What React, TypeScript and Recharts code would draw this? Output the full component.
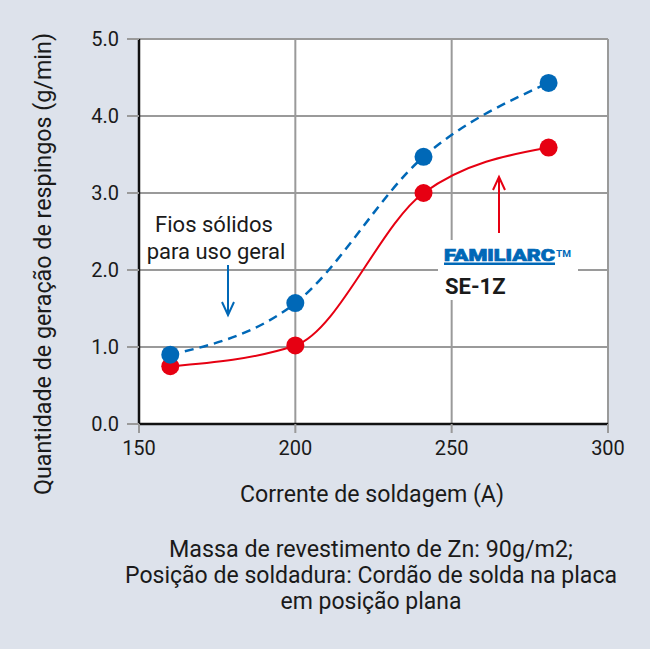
import { CartesianGrid, Line, LineChart, XAxis, YAxis } from "recharts";

// welding current (A) and spatter generation (g/min)
const CURRENT = [160, 200, 241, 281];
const SOLID_WIRE = [0.9, 1.57, 3.47, 4.43];
const SE_1Z = [0.75, 1.02, 3.0, 3.59];
const X_TICKS = [150, 200, 250, 300];
const Y_TICKS = [0, 1, 2, 3, 4, 5];
const NOTE_LINES = [
  "Massa de revestimento de Zn: 90g/m2;",
  "Posição de soldadura: Cordão de solda na placa",
  "em posição plana",
];
const NOTE_WIDTHS = [404, 492, 181];

const W = 650;
const H = 649;
const LEFT = 139;
const RIGHT = 608;
const TOP = 39;
const BOTTOM = 424;
const Y_AXIS_W = 60;
const X_AXIS_H = 30;

const BLUE = "#0068b7";
const RED = "#e60012";
const GRID = "#9a9a9a";
const BG = "#dde2eb";
const INK = "#1a1a1a";
const FONT = "Roboto, 'Liberation Sans', sans-serif";

const TICK = { fill: INK, fontSize: 20, fontFamily: FONT };

const data = CURRENT.map((current, i) => ({
  current,
  solid: SOLID_WIRE[i],
  se1z: SE_1Z[i],
}));

export default function App() {
  return (
    <div
      style={{
        position: "absolute",
        left: 0,
        top: 0,
        width: W,
        height: H,
        background: BG,
        fontFamily: FONT,
      }}
    >
      <LineChart
        width={W}
        height={H}
        data={data}
        margin={{
          top: TOP,
          right: W - RIGHT,
          bottom: H - BOTTOM - X_AXIS_H,
          left: LEFT - Y_AXIS_W,
        }}
      >
        <CartesianGrid stroke={GRID} strokeWidth={2} fill="#fff" fillOpacity={1} />
        <XAxis
          dataKey="current"
          type="number"
          domain={[150, 300]}
          ticks={X_TICKS}
          height={X_AXIS_H}
          tickSize={9}
          tickMargin={8}
          axisLine={{ stroke: "#111", strokeWidth: 2.5 }}
          tickLine={{ stroke: GRID, strokeWidth: 2 }}
          tick={TICK}
        />
        <YAxis
          type="number"
          domain={[0, 5]}
          ticks={Y_TICKS}
          tickFormatter={(v: number) => v.toFixed(1)}
          width={Y_AXIS_W}
          tickSize={12}
          tickMargin={8}
          axisLine={{ stroke: "#111", strokeWidth: 2.5 }}
          tickLine={{ stroke: GRID, strokeWidth: 2 }}
          tick={TICK}
        />
        <Line
          dataKey="se1z"
          type="monotone"
          stroke={RED}
          strokeWidth={2}
          dot={{ r: 9, fill: RED, stroke: RED, strokeWidth: 0 }}
          activeDot={false}
          isAnimationActive={false}
        />
        <Line
          dataKey="solid"
          type="monotone"
          stroke={BLUE}
          strokeWidth={2.5}
          strokeDasharray="9 6"
          dot={{ r: 9, fill: BLUE, stroke: BLUE, strokeWidth: 0 }}
          activeDot={false}
          isAnimationActive={false}
        />
      </LineChart>

      <svg
        width={W}
        height={H}
        style={{ position: "absolute", left: 0, top: 0, pointerEvents: "none" }}
        fontFamily={FONT}
      >
        {/* axis titles */}
        <text
          transform="translate(51,264) rotate(-90)"
          textAnchor="middle"
          fontSize={24}
          fill={INK}
          textLength={462}
          lengthAdjust="spacingAndGlyphs"
        >
          Quantidade de geração de respingos (g/min)
        </text>
        <text
          x={372}
          y={502}
          textAnchor="middle"
          fontSize={24}
          fill={INK}
          textLength={264}
          lengthAdjust="spacingAndGlyphs"
        >
          Corrente de soldagem (A)
        </text>

        {/* solid wire label */}
        <text x={214} y={232} textAnchor="middle" fontSize={22} fill={INK}>
          Fios sólidos
        </text>
        <text x={216} y={259} textAnchor="middle" fontSize={22} fill={INK}>
          para uso geral
        </text>
        <line x1={228} y1={265} x2={228} y2={314} stroke={BLUE} strokeWidth={2} />
        <polyline
          points="222,302 228,315 234,302"
          fill="none"
          stroke={BLUE}
          strokeWidth={2}
        />

        {/* SE-1Z label */}
        <line x1={499} y1={233} x2={499} y2={177} stroke={RED} strokeWidth={2} />
        <polyline
          points="493,190 499,177 505,190"
          fill="none"
          stroke={RED}
          strokeWidth={2}
        />
        <rect x={438} y={240} width={140} height={60} fill="#fff" />
        <text
          x={444}
          y={261}
          fontSize={16}
          fontWeight={900}
          fill={BLUE}
          stroke={BLUE}
          strokeWidth={0.7}
          textLength={111}
          lengthAdjust="spacingAndGlyphs"
        >
          FAMILIARC
        </text>
        <rect x={444} y={262.5} width={111} height={2.5} fill={BLUE} />
        <text
          x={556}
          y={257}
          fontSize={9}
          fontWeight={700}
          fill={BLUE}
          textLength={15}
          lengthAdjust="spacingAndGlyphs"
        >
          TM
        </text>
        <text x={445} y={294} fontSize={22} fontWeight={700} fill={INK}>
          SE-1Z
        </text>

        {/* test conditions */}
        {NOTE_LINES.map((line, i) => (
          <text
            key={line}
            x={371}
            y={557 + i * 26}
            textAnchor="middle"
            fontSize={24}
            fill={INK}
            textLength={NOTE_WIDTHS[i]}
            lengthAdjust="spacingAndGlyphs"
          >
            {line}
          </text>
        ))}
      </svg>
    </div>
  );
}
